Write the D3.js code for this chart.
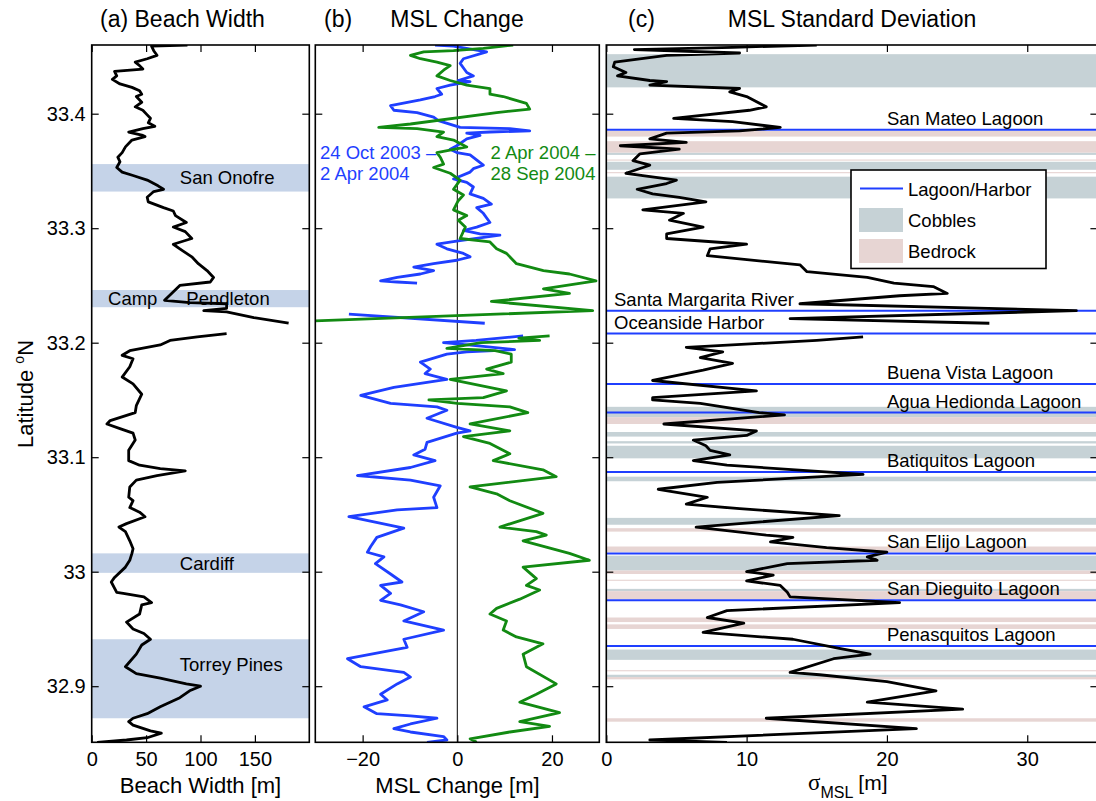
<!DOCTYPE html>
<html>
<head>
<meta charset="utf-8">
<script src="https://cdn.jsdelivr.net/npm/d3@7"></script>
<style>
  body { margin: 0; background: #fff; }
  svg { display: block; font-family: "Liberation Sans", Arial, sans-serif; }
</style>
</head>
<body>
<div class="chart"></div>
<script>
// [latitude, beach width in m], null marks the gap at the harbor
const beachWidth = [
  [33.460, 88], [33.459, 55], [33.455, 57], [33.451, 60], [33.448, 51], [33.445, 40], [33.442, 44], [33.439, 47],
  [33.437, 21], [33.433, 23], [33.430, 19], [33.426, 26], [33.423, 37], [33.420, 44], [33.417, 46], [33.415, 41],
  [33.410, 46], [33.406, 40], [33.403, 47], [33.399, 51], [33.396, 54], [33.392, 52], [33.389, 58], [33.387, 47],
  [33.384, 34], [33.381, 47], [33.380, 49], [33.377, 37], [33.371, 31], [33.366, 28], [33.362, 24], [33.358, 26],
  [33.353, 23], [33.349, 28], [33.346, 38], [33.342, 51], [33.337, 61], [33.334, 66], [33.332, 57], [33.327, 51],
  [33.323, 52], [33.318, 66], [33.315, 75], [33.311, 77], [33.305, 87], [33.301, 75], [33.297, 86], [33.291, 92],
  [33.286, 75], [33.282, 81], [33.275, 92], [33.269, 98], [33.263, 106], [33.257, 112], [33.253, 109], [33.250, 81],
  [33.237, 67], [33.235, 90], [33.234, 124], [33.230, 124], [33.228, 103], [33.227, 124], [33.222, 149], [33.217, 181],
  [33.212, null],
  [33.208, 124], [33.205, 97], [33.202, 72], [33.198, 63], [33.193, 35], [33.189, 28], [33.186, 38], [33.179, 35],
  [33.170, 28], [33.164, 38], [33.155, 46], [33.145, 41], [33.139, 40], [33.132, 17], [33.129, 14], [33.125, 26],
  [33.121, 38], [33.115, 40], [33.106, 34], [33.097, 34], [33.093, 44], [33.090, 63], [33.088, 86], [33.084, 60],
  [33.080, 41], [33.074, 35], [33.065, 34], [33.062, 38], [33.056, 35], [33.052, 44], [33.048, 49], [33.042, 32],
  [33.039, 25], [33.035, 31], [33.027, 35], [33.020, 38], [33.016, 37], [33.010, 35], [33.004, 31], [32.995, 21],
  [32.991, 18], [32.982, 23], [32.981, 29], [32.978, 48], [32.973, 55], [32.971, 46], [32.963, 44], [32.956, 32],
  [32.950, 38], [32.946, 48], [32.941, 54], [32.936, 46], [32.928, 41], [32.917, 31], [32.911, 41], [32.907, 63],
  [32.902, 87], [32.900, 100], [32.896, 90], [32.890, 81], [32.886, 72], [32.882, 63], [32.876, 51], [32.872, 38],
  [32.869, 34], [32.866, 38], [32.861, 54], [32.859, 64], [32.855, 51], [32.853, 32], [32.851, 5]
]

// [latitude, MSL change in m], 24 Oct 2003 - 2 Apr 2004
const mslOctApr = [
  [33.460, -4.7], [33.459, -0.8], [33.454, 6.2], [33.448, 1.3], [33.444, 0.6], [33.436, 2.0], [33.433, 3.4], [33.429, 0.2],
  [33.428, 2.7], [33.425, -1.5], [33.422, -4.3], [33.417, -3.3], [33.415, -4.7], [33.412, -7.8], [33.407, -14.1], [33.403, -13.4],
  [33.401, -8.5], [33.397, -5.0], [33.394, -4.0], [33.388, 0.6], [33.387, 11.1], [33.385, 15.3], [33.384, 6.9], [33.383, 2.0],
  [33.381, 4.8], [33.378, 2.0], [33.372, -0.1], [33.369, -1.5], [33.366, -0.1], [33.364, 2.7], [33.355, 5.5], [33.352, 3.4],
  [33.349, 2.7], [33.343, -0.8], [33.340, 2.0], [33.336, 3.4], [33.330, 2.7], [33.326, 5.5], [33.321, 7.2], [33.318, 4.1],
  [33.313, 5.5], [33.305, 6.9], [33.301, 4.1], [33.298, 1.3], [33.295, 4.8], [33.294, 9.0], [33.289, 0.2], [33.286, -4.3],
  [33.282, -2.2], [33.278, 1.3], [33.275, 2.7], [33.272, -0.1], [33.269, -5.0], [33.266, -9.2], [33.263, -5.0], [33.260, -7.8],
  [33.257, -12.7], [33.254, -16.2], [33.253, -12.7], [33.252, -8.5],
  [33.240, null],
  [33.225, -22.9], [33.217, 5.8],
  [33.212, null],
  [33.206, 13.9], [33.202, 4.0], [33.200, -2.9], [33.197, 5.0], [33.194, 12.1], [33.192, 2.0], [33.190, -2.2], [33.183, -7.8],
  [33.177, -5.7], [33.173, -6.8], [33.168, -2.2], [33.161, -13.4], [33.154, -20.4], [33.147, -14.1], [33.144, -4.3], [33.141, -2.2],
  [33.134, -6.4], [33.126, -0.1], [33.123, 2.7], [33.121, -0.1], [33.113, -6.4], [33.107, -6.8], [33.102, -9.2], [33.097, -4.7],
  [33.091, -9.9], [33.084, -21.1], [33.080, -9.9], [33.075, -3.6], [33.065, -5.0], [33.056, -4.3], [33.054, -12.7], [33.048, -22.9],
  [33.038, -11.3], [33.030, -17.0], [33.022, -18.3], [33.017, -19.0], [33.013, -15.5], [33.007, -17.3], [32.998, -14.1], [32.991, -11.7],
  [32.988, -16.2], [32.981, -14.1], [32.975, -16.2], [32.971, -12.0], [32.965, -7.1], [32.957, -11.3], [32.949, -2.9], [32.941, -11.3],
  [32.934, -10.6], [32.924, -23.2], [32.917, -20.4], [32.912, -11.3], [32.908, -9.9], [32.902, -12.7], [32.893, -16.2], [32.888, -14.8],
  [32.882, -19.7], [32.876, -17.0], [32.874, -9.9], [32.872, -4.3], [32.867, -9.9], [32.863, -13.4], [32.860, -9.9], [32.856, -2.9],
  [32.853, -2.2], [32.851, -6.4]
]

// [latitude, MSL change in m], 2 Apr 2004 - 28 Sep 2004
const mslAprSep = [
  [33.460, 11.8], [33.457, 5.5], [33.455, -0.8], [33.454, -7.1], [33.451, -9.9], [33.448, -7.8], [33.445, -4.3], [33.442, -1.5],
  [33.438, -2.9], [33.433, -4.3], [33.429, -1.5], [33.425, 2.0], [33.422, 6.9], [33.417, 6.9], [33.415, 9.7], [33.409, 14.6],
  [33.404, 15.3], [33.401, 8.3], [33.391, -9.9], [33.388, -16.6], [33.387, -8.5], [33.384, -2.9], [33.380, -4.3], [33.377, -0.8],
  [33.371, 2.0], [33.366, -4.3], [33.362, -3.6], [33.356, -2.9], [33.353, -5.0], [33.348, -1.5], [33.342, 0.6], [33.334, -0.8],
  [33.329, 1.3], [33.324, 0.2], [33.316, -0.8], [33.311, 2.0], [33.307, 0.2], [33.301, 1.7], [33.291, 0.6], [33.288, 6.9],
  [33.282, 8.3], [33.278, 10.4], [33.269, 12.5], [33.263, 18.2], [33.260, 23.7], [33.254, 29.3], [33.247, 18.2], [33.243, 23.7],
  [33.236, 7.2], [33.228, 28.6], [33.219, -30.5],
  [33.212, null],
  [33.206, 19.5], [33.204, 13.0], [33.202, 17.4], [33.200, 5.0], [33.195, -2.2], [33.193, 8.0], [33.190, 11.4], [33.183, 11.4],
  [33.177, 6.2], [33.173, 9.7], [33.168, -1.5], [33.158, 10.4], [33.152, 5.5], [33.150, -6.0], [33.147, 0.0], [33.144, 11.1],
  [33.139, 14.9], [33.129, 2.7], [33.123, 11.1], [33.118, 1.3], [33.112, 6.9], [33.103, 11.1], [33.097, 7.6], [33.089, 18.1],
  [33.083, 20.9], [33.074, 2.7], [33.068, 8.3], [33.062, 11.1], [33.051, 18.1], [33.039, 9.0], [33.035, 16.7], [33.032, 18.8],
  [33.027, 13.9], [33.016, 23.7], [33.010, 27.9], [33.004, 13.9], [32.994, 16.7], [32.988, 14.6], [32.984, 17.4], [32.976, 13.2],
  [32.968, 8.3], [32.963, 6.9], [32.957, 10.4], [32.949, 9.7], [32.943, 12.5], [32.937, 18.1], [32.928, 13.9], [32.917, 14.6],
  [32.902, 20.9], [32.893, 16.7], [32.886, 13.2], [32.877, 21.6], [32.869, 13.2], [32.865, 19.5], [32.860, 11.1], [32.854, 2.7],
  [32.851, 4.1]
]

// [latitude, MSL standard deviation in m]
const sigmaMsl = [
  [33.460, 15.0], [33.458, 9.0], [33.456, 2.0], [33.453, 9.5], [33.451, 4.3], [33.445, 0.6], [33.441, 0.5], [33.436, 1.4],
  [33.433, 0.8], [33.429, 3.1], [33.428, 4.3], [33.425, 3.1], [33.422, 9.5], [33.419, 8.8], [33.415, 10.0], [33.406, 11.4],
  [33.403, 10.2], [33.396, 4.8], [33.393, 9.0], [33.388, 12.4], [33.385, 9.5], [33.383, 4.3], [33.378, 3.1], [33.375, 5.7],
  [33.372, 1.0], [33.369, 5.2], [33.365, 2.4], [33.359, 1.9], [33.355, 3.1], [33.348, 1.4], [33.346, 2.6], [33.342, 5.0],
  [33.339, 4.3], [33.334, 2.2], [33.330, 3.3], [33.327, 5.2], [33.323, 7.1], [33.316, 2.6], [33.313, 5.5], [33.307, 4.5],
  [33.301, 6.9], [33.295, 4.3], [33.291, 4.3], [33.286, 10.0], [33.282, 7.4], [33.276, 7.2], [33.268, 13.8], [33.262, 14.3],
  [33.257, 18.6], [33.252, 20.5], [33.249, 23.3], [33.243, 24.3], [33.241, 20.9], [33.234, 13.8], [33.228, 33.5], [33.221, 13.1],
  [33.217, 27.3],
  [33.211, null],
  [33.205, 18.3], [33.202, 15.0], [33.196, 5.7], [33.192, 8.3], [33.187, 6.7], [33.182, 9.0], [33.176, 6.9], [33.167, 3.3],
  [33.158, 10.7], [33.152, 3.3], [33.150, 3.3], [33.147, 6.7], [33.139, 10.9], [33.137, 12.7], [33.129, 4.1], [33.123, 10.7],
  [33.119, 10.0], [33.115, 6.2], [33.110, 7.1], [33.106, 7.4], [33.102, 8.8], [33.097, 6.2], [33.093, 8.6], [33.085, 18.3],
  [33.078, 7.9], [33.072, 3.7], [33.065, 7.2], [33.059, 5.7], [33.055, 9.5], [33.049, 16.6], [33.039, 6.4], [33.032, 11.4],
  [33.030, 13.3], [33.026, 11.7], [33.021, 15.7], [33.017, 20.0], [33.013, 18.6], [33.010, 19.3], [33.007, 12.9], [33.000, 10.0],
  [32.997, 11.9], [32.992, 10.0], [32.988, 12.4], [32.982, 12.9], [32.978, 13.1], [32.973, 20.9], [32.966, 8.6], [32.960, 7.2],
  [32.955, 9.8], [32.947, 6.9], [32.941, 13.3], [32.933, 16.6], [32.928, 18.8], [32.924, 16.2], [32.912, 13.1], [32.910, 15.2],
  [32.904, 20.0], [32.896, 23.5], [32.886, 18.6], [32.880, 25.4], [32.872, 11.4], [32.863, 22.1], [32.853, 3.1], [32.851, 8.6]
]

const beachNames = ["San Onofre", "Camp Pendleton", "Cardiff", "Torrey Pines"]
const beachTop = [33.356, 33.246, 33.016, 32.941]
const beachBottom = [33.332, 33.231, 32.999, 32.872]
const beachLabelLat = [33.344, 33.2385, 33.0075, 32.919]

const cobbleTop = [33.452, 33.366, 33.358, 33.345, 33.144, 33.122, 33.114, 33.110, 33.083, 33.047, 33.014, 32.985, 32.932, 32.910]
const cobbleBottom = [33.423, 33.364, 33.351, 33.326, 33.135, 33.118, 33.112, 33.099, 33.079, 33.041, 33.001, 32.983, 32.923, 32.908]
const bedrockTop = [33.385, 33.376, 33.360, 33.349, 33.135, 33.038, 33.022, 33.001, 32.993, 32.983, 32.960, 32.954, 32.914, 32.908, 32.872]
const bedrockBottom = [33.380, 33.366, 33.359, 33.348, 33.129, 33.035, 33.017, 32.998, 32.992, 32.976, 32.956, 32.950, 32.913, 32.906, 32.869]

const lagoonNames = ["San Mateo Lagoon", "Santa Margarita River", "Oceanside Harbor", "Buena Vista Lagoon",
  "Agua Hedionda Lagoon", "Batiquitos Lagoon", "San Elijo Lagoon", "San Dieguito Lagoon", "Penasquitos Lagoon"]
const lagoonLat = [33.386, 33.228, 33.208, 33.164, 33.139, 33.087, 33.016, 32.975, 32.935]

const latTicks = [32.9, 33, 33.1, 33.2, 33.3, 33.4]
const widthTicks = [0, 50, 100, 150]
const changeTicks = [-20, 0, 20]
const sigmaTicks = [0, 10, 20, 30]

const colors = {
  beach: "#c5d3e8",
  cobbles: "#c6d2d6",
  bedrock: "#e7d5d3",
  lagoon: "#1f3fff",
  fall: "#1f3fff",
  spring: "#128a12"
}
const font = "Liberation Sans, Arial, sans-serif"

const $svg = d3
  .select(".chart")
  .append("svg")
  .attr("width", 1096)
  .attr("height", 801)

const y = d3.scaleLinear().domain([32.851, 33.46]).range([742.3, 45])
const xA = d3.scaleLinear().domain([0, 200]).range([91.7, 309.3])
const xB = d3.scaleLinear().domain([-30, 30]).range([315.3, 599.3])
const xC = d3.scaleLinear().domain([0, 35]).range([606.3, 1097.4])

function panel(x, id) {
  const [x0, x1] = x.range()
  const [y1, y0] = y.range()
  $svg
    .append("clipPath")
    .attr("id", `clip-${id}`)
    .append("rect")
    .attr("x", x0)
    .attr("y", y0)
    .attr("width", x1 - x0)
    .attr("height", y1 - y0)
  return $svg.append("g").attr("clip-path", `url(#clip-${id})`)
}

function band(g, x, top, bottom, fill) {
  const [x0, x1] = x.range()
  g.append("rect")
    .attr("x", x0)
    .attr("width", x1 - x0)
    .attr("y", y(top))
    .attr("height", Math.max(1, y(bottom) - y(top)))
    .attr("fill", fill)
}

function trace(g, x, data, color) {
  const line = d3
    .line()
    .defined(d => d[1] != null)
    .x(d => x(d[1]))
    .y(d => y(d[0]))
  g.append("path")
    .attr("d", line(data))
    .attr("fill", "none")
    .attr("stroke", color)
    .attr("stroke-width", 2.8)
    .attr("stroke-linejoin", "round")
}

function axes(x, ticks, showLat) {
  const [x0, x1] = x.range()
  const [y1, y0] = y.range()
  const tick = 7
  const style = g => {
    g.select(".domain").remove()
    g.attr("font-size", 20).attr("font-family", font)
    g.selectAll(".tick line").attr("stroke-width", 1.2)
  }
  $svg.append("g")
    .attr("transform", `translate(0,${y1})`)
    .call(d3.axisBottom(x).tickValues(ticks).tickSize(-tick).tickPadding(10))
    .call(style)
  $svg.append("g")
    .attr("transform", `translate(0,${y0})`)
    .call(d3.axisTop(x).tickValues(ticks).tickSize(-tick).tickFormat(""))
    .call(style)
  $svg.append("g")
    .attr("transform", `translate(${x0},0)`)
    .call(d3.axisLeft(y).tickValues(latTicks).tickSize(-tick).tickPadding(6)
      .tickFormat(showLat ? d => String(+d.toFixed(1)) : ""))
    .call(style)
  $svg.append("g")
    .attr("transform", `translate(${x1},0)`)
    .call(d3.axisRight(y).tickValues(latTicks).tickSize(-tick).tickFormat(""))
    .call(style)
  $svg.append("rect")
    .attr("x", x0)
    .attr("y", y0)
    .attr("width", x1 - x0)
    .attr("height", y1 - y0)
    .attr("fill", "none")
    .attr("stroke", "black")
    .attr("stroke-width", 1.6)
}

function label(x, yy, text, opts = {}) {
  return $svg.append("text")
    .attr("x", x)
    .attr("y", yy)
    .attr("font-size", opts.size || 18.5)
    .attr("font-family", font)
    .attr("text-anchor", opts.anchor || "start")
    .attr("fill", opts.color || "black")
    .text(text)
}

// (a) beach width
const $a = panel(xA, "a")
beachNames.forEach((name, i) => band($a, xA, beachTop[i], beachBottom[i], colors.beach))
beachNames.forEach((name, i) => {
  const base = y(beachLabelLat[i]) + 6.5
  if (name === "Camp Pendleton") {
    label(xA(15), base, "Camp")
    label(xA(87), base, "Pendleton")
  } else {
    label(xA(81), base, name)
  }
})
trace($a, xA, beachWidth, "black")
axes(xA, widthTicks, true)

// (b) MSL change
const $b = panel(xB, "b")
$b.append("line")
  .attr("x1", xB(0))
  .attr("x2", xB(0))
  .attr("y1", y.range()[1])
  .attr("y2", y.range()[0])
  .attr("stroke", "black")
  .attr("stroke-width", 1)
trace($b, xB, mslOctApr, colors.fall)
trace($b, xB, mslAprSep, colors.spring)
axes(xB, changeTicks, false)
label(320, 159, "24 Oct 2003 \u2013", { color: colors.fall })
label(320, 180, "2 Apr 2004", { color: colors.fall })
label(490.5, 159, "2 Apr 2004 \u2013", { color: colors.spring })
label(490.5, 180, "28 Sep 2004", { color: colors.spring })

// (c) MSL standard deviation
const $c = panel(xC, "c")
cobbleTop.forEach((t, i) => band($c, xC, t, cobbleBottom[i], colors.cobbles))
bedrockTop.forEach((t, i) => band($c, xC, t, bedrockBottom[i], colors.bedrock))
lagoonLat.forEach(lat => {
  $c.append("line")
    .attr("x1", xC.range()[0])
    .attr("x2", xC.range()[1])
    .attr("y1", y(lat))
    .attr("y2", y(lat))
    .attr("stroke", colors.lagoon)
    .attr("stroke-width", 2)
})
lagoonNames.forEach((name, i) => {
  const leftSide = name === "Santa Margarita River" || name === "Oceanside Harbor"
  label(leftSide ? xC(0.55) : xC(20), y(lagoonLat[i]) - 5, name)
})
trace($c, xC, sigmaMsl, "black")
axes(xC, sigmaTicks, false)

// legend
const $legend = $svg.append("g").attr("transform", "translate(851,170)")
$legend.append("rect")
  .attr("width", 195)
  .attr("height", 98.5)
  .attr("fill", "white")
  .attr("stroke", "black")
  .attr("stroke-width", 1.6)
$legend.append("line")
  .attr("x1", 9).attr("x2", 52).attr("y1", 18.5).attr("y2", 18.5)
  .attr("stroke", colors.lagoon).attr("stroke-width", 2)
$legend.append("rect").attr("x", 8).attr("y", 38).attr("width", 44).attr("height", 24).attr("fill", colors.cobbles)
$legend.append("rect").attr("x", 8).attr("y", 69).attr("width", 44).attr("height", 24).attr("fill", colors.bedrock)
;[["Lagoon/Harbor", 25.5], ["Cobbles", 56.5], ["Bedrock", 88]].forEach(([t, yy]) => {
  $legend.append("text")
    .attr("x", 57)
    .attr("y", yy)
    .attr("font-size", 18.5)
    .attr("font-family", font)
    .text(t)
})

// titles
label(100, 27, "(a) Beach Width", { size: 23 })
label(324, 27, "(b)", { size: 23 })
label(457, 27, "MSL Change", { size: 23, anchor: "middle" })
label(628, 27, "(c)", { size: 23 })
label(852, 27, "MSL Standard Deviation", { size: 23, anchor: "middle" })

// axis labels
label(200.5, 793, "Beach Width [m]", { size: 22, anchor: "middle" })
label(457.5, 793, "MSL Change [m]", { size: 22, anchor: "middle" })
const $sig = $svg.append("text")
  .attr("x", 808)
  .attr("y", 790)
  .attr("font-size", 21)
  .attr("font-family", font)
$sig.append("tspan").attr("font-family", "Liberation Serif, serif").attr("font-size", 23).text("\u03c3")
$sig.append("tspan").attr("font-size", 16).attr("dy", 8).text("MSL")
$sig.append("tspan").attr("dy", -8).attr("dx", 5).text("[m]")

const $ylab = $svg.append("text")
  .attr("transform", "translate(33,394) rotate(-90)")
  .attr("text-anchor", "middle")
  .attr("font-size", 22)
  .attr("font-family", font)
$ylab.append("tspan").text("Latitude ")
$ylab.append("tspan").attr("font-size", 14).attr("dy", -9).text("o")
$ylab.append("tspan").attr("dy", 9).text("N")
</script>
</body>
</html>
